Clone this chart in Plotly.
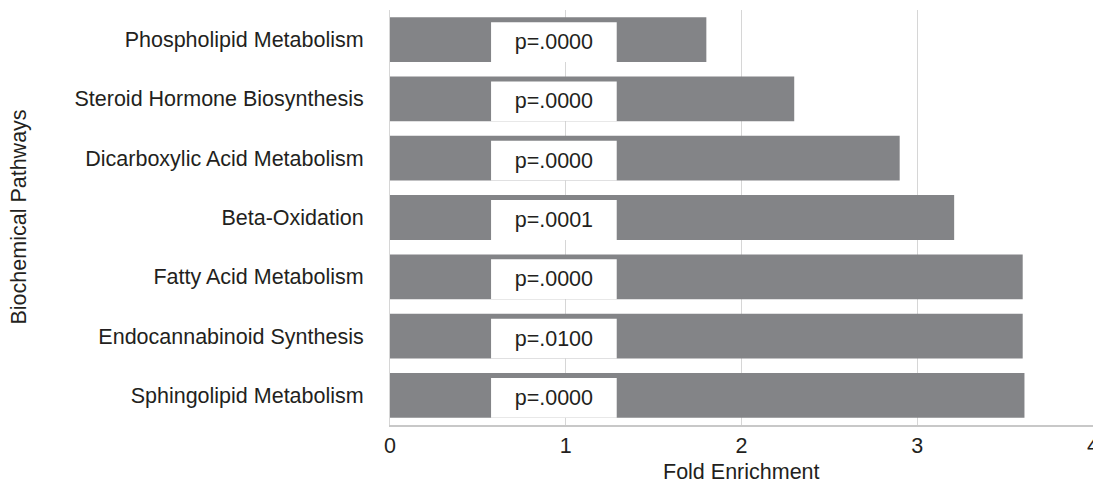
import plotly.graph_objects as go

pathways = [
    "Phospholipid Metabolism",
    "Steroid Hormone Biosynthesis",
    "Dicarboxylic Acid Metabolism",
    "Beta-Oxidation",
    "Fatty Acid Metabolism",
    "Endocannabinoid Synthesis",
    "Sphingolipid Metabolism",
]
fold_enrichment = [1.80, 2.30, 2.90, 3.21, 3.60, 3.60, 3.61]
p_labels = ["p=.0000", "p=.0000", "p=.0000", "p=.0001", "p=.0000", "p=.0100", "p=.0000"]
x_ticks = [0, 1, 2, 3, 4]

# label box placement (in data units of the x axis)
box_start = 0.575
box_end = 1.29

FONT = "Liberation Sans, Arial, Helvetica, sans-serif"
TXT = "#231f20"
BAR = "#838487"
FS = 21.5
PLOT_H = 484 - 10 - 59

fig = go.Figure()
fig.add_trace(go.Bar(
    y=pathways, x=fold_enrichment, orientation="h",
    marker=dict(color=BAR, line=dict(width=0)),
    width=0.756, offset=-0.378, hoverinfo="x+y", showlegend=False,
))
fig.add_trace(go.Bar(
    y=pathways, x=[box_end - box_start] * len(pathways), base=box_start,
    orientation="h",
    marker=dict(color="white", line=dict(width=0)),
    width=0.672, offset=-0.294,
    text=p_labels, textposition="inside", insidetextanchor="middle",
    textangle=0, constraintext="none",
    textfont=dict(family=FONT, size=FS, color=TXT),
    hoverinfo="text", showlegend=False,
))

fig.update_layout(
    template="none",
    width=1093, height=484,
    margin=dict(l=390, r=0, t=10, b=59, autoexpand=False),
    plot_bgcolor="white", paper_bgcolor="white",
    barmode="overlay",
    font=dict(family=FONT, size=FS, color=TXT),
    xaxis=dict(
        range=[0, 4], tickvals=x_ticks, ticktext=[str(v) for v in x_ticks],
        showgrid=True, gridcolor="#d6d6d6", gridwidth=1,
        zeroline=False, showline=True, linecolor="#c8c8c8", linewidth=1.5,
        ticks="", ticklabelstandoff=0, automargin=False,
        ticklabeloverflow="allow",
        tickfont=dict(family=FONT, size=FS, color=TXT),
        fixedrange=True,
    ),
    yaxis=dict(
        autorange="reversed", showgrid=False, zeroline=False,
        showline=True, linecolor="#d6d6d6", linewidth=1,
        ticks="", ticklabelstandoff=21, automargin=False,
        tickfont=dict(family=FONT, size=FS, color=TXT),
        fixedrange=True,
    ),
    annotations=[
        dict(
            text="Biochemical Pathways", textangle=-90,
            xref="paper", yref="paper", x=(18 - 390) / 703, y=0.5,
            xanchor="center", yanchor="middle", showarrow=False,
            font=dict(family=FONT, size=FS, color=TXT),
        ),
        dict(
            text="Fold Enrichment",
            xref="paper", yref="paper", x=0.5, y=-47 / PLOT_H,
            xanchor="center", yanchor="middle", showarrow=False,
            font=dict(family=FONT, size=FS, color=TXT),
        ),
    ],
)

fig.write_html(
    "out.html",
    config={"displayModeBar": False},
    post_script="document.body.style.margin='0';document.body.style.overflow='hidden';",
)
